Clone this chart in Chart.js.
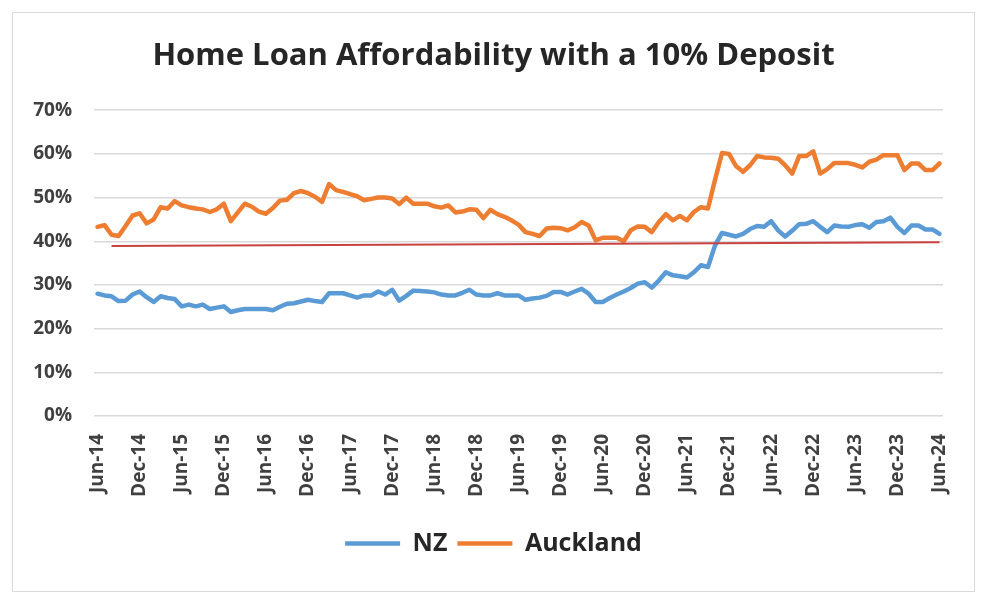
<!DOCTYPE html>
<html>
<head>
<meta charset="utf-8">
<title>Home Loan Affordability</title>
<script src="https://cdn.jsdelivr.net/npm/chart.js@4.4.1/dist/chart.umd.min.js"></script>
<style>
    html, body { margin: 0; padding: 0; background: #fff; }
    #wrap { position: relative; width: 990px; height: 608px; }
    #frame {
        position: absolute; left: 12px; top: 12px; width: 961px; height: 578px;
        border: 1.5px solid #d9d9d9;
    }
    canvas { position: absolute; left: 0; top: 0; }
</style>
</head>
<body>
<div id="wrap">
    <div id="frame"></div>
    <canvas id="chart" width="990" height="608"></canvas>
</div>
<script>
// Monthly categories, Jun-14 .. Jun-24
var monthNames = ['Jan', 'Feb', 'Mar', 'Apr', 'May', 'Jun', 'Jul', 'Aug', 'Sep', 'Oct', 'Nov', 'Dec'];
var categories = [];
for (var m = 5; m <= 5 + 120; m++) {
    var yr = 14 + Math.floor(m / 12);
    categories.push(monthNames[m % 12] + '-' + yr);
}
// only every 6th month gets a label
var tickEvery = 6;

// Affordability, % of income
var nzValues = [
    28.0, 27.6, 27.4, 26.3, 26.4, 27.8, 28.5, 27.2, 26.1, 27.4,
    27.0, 26.8, 25.1, 25.5, 25.1, 25.5, 24.5, 24.8, 25.1, 23.8,
    24.2, 24.5, 24.5, 24.5, 24.5, 24.2, 25.0, 25.7, 25.8, 26.2,
    26.6, 26.3, 26.1, 28.1, 28.1, 28.1, 27.6, 27.1, 27.6, 27.6,
    28.5, 27.8, 28.9, 26.4, 27.5, 28.7, 28.6, 28.5, 28.3, 27.8,
    27.6, 27.6, 28.2, 28.9, 27.8, 27.6, 27.6, 28.1, 27.6, 27.6,
    27.6, 26.6, 26.9, 27.1, 27.5, 28.4, 28.4, 27.8, 28.5, 29.1,
    28.0, 26.1, 26.1, 27.0, 27.8, 28.5, 29.3, 30.3, 30.6, 29.4,
    31.0, 32.9, 32.2, 32.0, 31.7, 32.9, 34.5, 34.1, 39.0, 41.9,
    41.5, 41.1, 41.7, 42.8, 43.5, 43.3, 44.6, 42.5, 41.1, 42.4,
    43.9, 44.0, 44.6, 43.3, 42.1, 43.6, 43.4, 43.3, 43.7, 43.9,
    43.1, 44.4, 44.6, 45.4, 43.3, 41.9, 43.6, 43.6, 42.7, 42.7,
    41.7
];
var aklValues = [
    43.3, 43.7, 41.5, 41.2, 43.5, 45.9, 46.4, 44.1, 45.0, 47.8,
    47.5, 49.2, 48.2, 47.8, 47.5, 47.3, 46.7, 47.3, 48.6, 44.6,
    46.6, 48.6, 47.9, 46.8, 46.3, 47.6, 49.3, 49.5, 51.0, 51.5,
    51.0, 50.2, 49.0, 53.1, 51.7, 51.3, 50.8, 50.3, 49.4, 49.7,
    50.0, 50.0, 49.8, 48.5, 50.0, 48.6, 48.6, 48.6, 48.0, 47.7,
    48.2, 46.6, 46.8, 47.3, 47.2, 45.3, 47.2, 46.2, 45.6, 44.8,
    43.8, 42.1, 41.7, 41.2, 42.9, 43.1, 43.0, 42.5, 43.2, 44.4,
    43.6, 40.2, 40.8, 40.8, 40.8, 40.0, 42.5, 43.4, 43.3, 42.1,
    44.4, 46.2, 44.8, 45.8, 44.8, 46.7, 47.8, 47.5, 54.0, 60.2,
    60.0, 57.2, 55.9, 57.4, 59.5, 59.2, 59.1, 58.9, 57.4, 55.5,
    59.5, 59.5, 60.6, 55.5, 56.5, 57.9, 57.9, 57.9, 57.5, 56.9,
    58.2, 58.7, 59.7, 59.7, 59.7, 56.3, 57.8, 57.8, 56.3, 56.3,
    57.8
];
// red reference line: only its two end points, gaps spanned
var refStartIdx = 2, refStartVal = 38.9;
var refEndIdx = 120, refEndVal = 39.8;

var yTicks = [0, 10, 20, 30, 40, 50, 60, 70];

var refValues = categories.map(function() { return null; });
refValues[refStartIdx] = refStartVal;
refValues[refEndIdx] = refEndVal;

var textColor = '#404040';
var fontFamily = "'Open Sans', 'Liberation Sans', sans-serif";
var tickFont = { family: fontFamily, size: 19, weight: 'bold' };

// y labels are mirrored (so they are not clipped by the narrow axis box)
// and pushed back left; work out how far from the widest label
var measureCtx = document.createElement('canvas').getContext('2d');
measureCtx.font = 'bold 19px ' + fontFamily;
var widestY = Math.max.apply(null, yTicks.map(function(v) {
    return measureCtx.measureText(v + '%').width;
}));
var yLabelGap = 22;

new Chart(document.getElementById('chart'), {
    type: 'line',
    data: {
        labels: categories,
        datasets: [{
            label: 'Ref',
            data: refValues,
            borderColor: '#C8423F',
            borderWidth: 2,
            pointRadius: 0,
            spanGaps: true,
            tension: 0,
            order: 0
        }, {
            label: 'NZ',
            data: nzValues,
            borderColor: '#5B9BD5',
            backgroundColor: '#5B9BD5',
            borderWidth: 4.5,
            pointRadius: 0,
            tension: 0,
            borderJoinStyle: 'round',
            borderCapStyle: 'round',
            order: 2
        }, {
            label: 'Auckland',
            data: aklValues,
            borderColor: '#ED7D31',
            backgroundColor: '#ED7D31',
            borderWidth: 4.5,
            pointRadius: 0,
            tension: 0,
            borderJoinStyle: 'round',
            borderCapStyle: 'round',
            order: 1
        }]
    },
    options: {
        responsive: false,
        animation: false,
        // wide left padding so title and legend centre like the original
        layout: { padding: { top: 0, left: 44, right: 47, bottom: 42 } },
        plugins: {
            title: {
                display: true,
                text: 'Home Loan Affordability with a 10% Deposit',
                color: '#262626',
                font: { family: fontFamily, size: 31, weight: 'bold' },
                padding: { top: 38, bottom: 35 }
            },
            legend: {
                position: 'bottom',
                labels: {
                    filter: function(item) { return item.text !== 'Ref'; },
                    sort: function(a, b) { return a.datasetIndex - b.datasetIndex; },
                    usePointStyle: true,
                    pointStyle: 'line',
                    pointStyleWidth: 55,
                    color: '#262626',
                    padding: 10,
                    font: { family: fontFamily, size: 25, weight: 'bold' }
                }
            },
            tooltip: { enabled: false }
        },
        scales: {
            x: {
                offset: true,
                grid: { display: false },
                border: { display: false },
                afterFit: function(scale) { scale.height = 105; },
                ticks: {
                    autoSkip: false,
                    maxRotation: 90,
                    minRotation: 90,
                    padding: 10,
                    color: textColor,
                    font: tickFont,
                    callback: function(val, idx) {
                        return idx % tickEvery === 0 ? this.getLabelForValue(val) : '';
                    }
                }
            },
            y: {
                min: yTicks[0],
                max: yTicks[yTicks.length - 1],
                border: { display: false },
                grid: { color: '#d9d9d9', lineWidth: 1.5, drawTicks: false },
                afterFit: function(scale) { scale.width = 50; },
                ticks: {
                    stepSize: 10,
                    mirror: true,
                    crossAlign: 'far',
                    padding: -(yLabelGap + widestY),
                    color: textColor,
                    font: tickFont,
                    callback: function(v) { return v + '%'; }
                }
            }
        }
    }
});
</script>
</body>
</html>
